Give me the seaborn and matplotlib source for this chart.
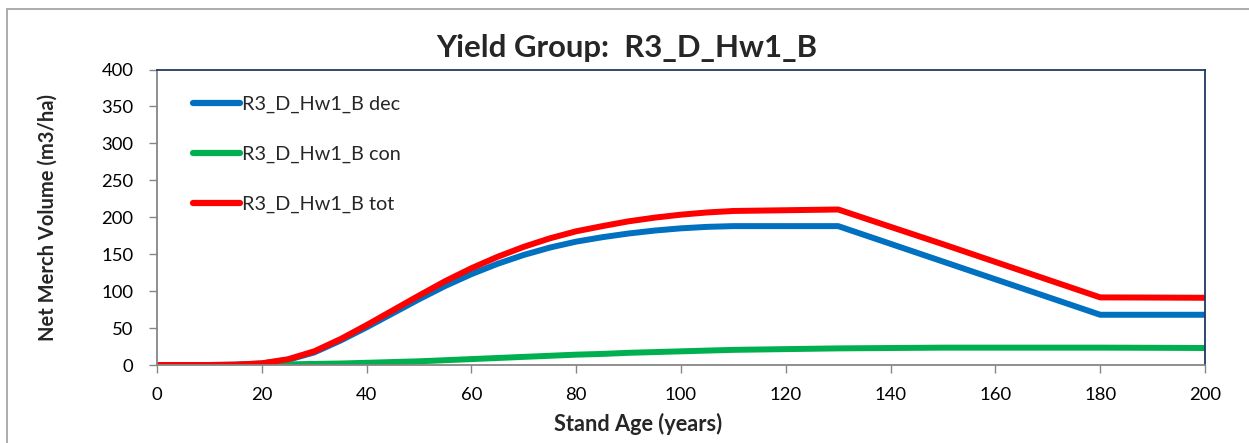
import matplotlib
matplotlib.use("Agg")
import matplotlib.pyplot as plt
import seaborn as sns
import pandas as pd
from matplotlib.patches import Rectangle

age = [0, 5, 10, 15, 20, 25, 30, 35, 40, 45, 50, 55, 60, 65, 70, 75, 80, 85, 90, 95,
       100, 105, 110, 115, 120, 125, 130, 140, 150, 160, 170, 180, 190, 200]
dec = [0, 0, 0, 0.5, 2, 7, 17, 33, 51, 70, 89, 107, 123, 137, 149, 159, 167, 173, 178, 182,
       185, 187, 188, 188, 188, 188, 188, 164, 140, 116, 92, 68, 68, 68]
con = [0, 0, 0, 0, 0.3, 0.8, 1.5, 2, 3, 4, 5, 6.5, 8, 9.5, 11, 12.5, 14, 15, 16.5, 17.5,
       18.5, 19.5, 20.5, 21, 21.5, 22, 22.5, 23, 23.5, 23.5, 23.5, 23.5, 23.3, 23]
tot = [0, 0, 0, 0.5, 2.3, 7.8, 18.5, 35, 54, 74, 94, 113.5, 131, 146.5, 160, 171.5, 181, 188, 194.5, 199.5,
       203.5, 206.5, 208.5, 209, 209.5, 210, 210.5, 187, 163.5, 139.5, 115.5, 91.5, 91.3, 91]
labels = ["R3_D_Hw1_B dec", "R3_D_Hw1_B con", "R3_D_Hw1_B tot"]
colors = ["#0070C0", "#00B050", "#FF0000"]
title = "Yield Group:  R3_D_Hw1_B"
xlabel = "Stand Age (years)"
ylabel = "Net Merch Volume (m3/ha)"

df = pd.concat([
    pd.DataFrame({"age": age, "vol": s, "series": lab})
    for s, lab in zip([dec, con, tot], labels)
])

sns.set_theme(style="white")
plt.rcParams["font.family"] = ["Lato", "DejaVu Sans"]

W, H = 1249, 443
fig = plt.figure(figsize=(W / 100, H / 100), dpi=100)
ax = fig.add_axes([157 / W, 1 - 365 / H, (1205 - 157) / W, (365 - 69.5) / H])

sns.lineplot(data=df, x="age", y="vol", hue="series", hue_order=labels,
             palette=dict(zip(labels, colors)), linewidth=4.3, ax=ax,
             sort=True, legend=True)
for ln in ax.get_lines():
    ln.set_solid_capstyle("butt")
    ln.set_solid_joinstyle("round")

fig.canvas.draw()
renderer = fig.canvas.get_renderer()


def fit_size(text, target_px, weight="normal", dim="width", base=12):
    t = fig.text(0, 0, text, fontsize=base, fontweight=weight)
    bb = t.get_window_extent(renderer)
    size = bb.width if dim == "width" else bb.height
    t.remove()
    return base * target_px / size


tick_fs = fit_size("100", 32)
title_fs = fit_size(title, 380, "bold")
xlab_fs = fit_size(xlabel, 167, "bold")
ylab_fs = fit_size(ylabel, 245, "bold")
leg_fs = fit_size(labels[0], 157)

ax.set_xlim(0, 200)
ax.set_ylim(0, 400)
ax.set_xticks(range(0, 201, 20))
ax.set_yticks(range(0, 401, 50))
ax.tick_params(axis="both", which="both", direction="out", length=6, width=1,
               color="#868686", labelsize=tick_fs, labelcolor="black",
               bottom=True, left=True)
ax.tick_params(axis="y", pad=11)
ax.tick_params(axis="x", pad=10)
for side in ["left", "bottom"]:
    ax.spines[side].set_color("#868686")
    ax.spines[side].set_linewidth(1.3)
for side in ["top", "right"]:
    ax.spines[side].set_color("#1F3864")
    ax.spines[side].set_linewidth(1.3)
    ax.spines[side].set_visible(True)

ax.set_xlabel(xlabel, fontsize=xlab_fs, fontweight="bold", va="baseline")
ax.xaxis.set_label_coords(638.5 / W, 1 - 431 / H, transform=fig.transFigure)
ax.set_ylabel(ylabel, fontsize=ylab_fs, fontweight="bold", va="center")
ax.yaxis.set_label_coords(47.5 / W, 1 - 217.5 / H, transform=fig.transFigure)

fig.text(627 / W, 1 - 57 / H, title, ha="center", va="baseline",
         fontsize=title_fs, fontweight="bold")

leg_px = leg_fs * 100 / 72
leg = ax.legend(loc="upper left", bbox_to_anchor=(193 / W, 1 - 96 / H),
                bbox_transform=fig.transFigure, frameon=False,
                fontsize=leg_fs, handlelength=47 / leg_px,
                handletextpad=2 / leg_px, labelspacing=(56.5 - 1.2 * leg_px) / leg_px,
                borderaxespad=0, borderpad=0)
for h in leg.get_lines():
    h.set_linewidth(4.5)
    h.set_solid_capstyle("round")

fig.patches.append(Rectangle((7 / W, -0.1), 1.2, 1.1 - 9 / H,
                             transform=fig.transFigure, fill=False,
                             edgecolor="#A6A6A6", linewidth=1.3))

fig.savefig("out.png", dpi=100)
